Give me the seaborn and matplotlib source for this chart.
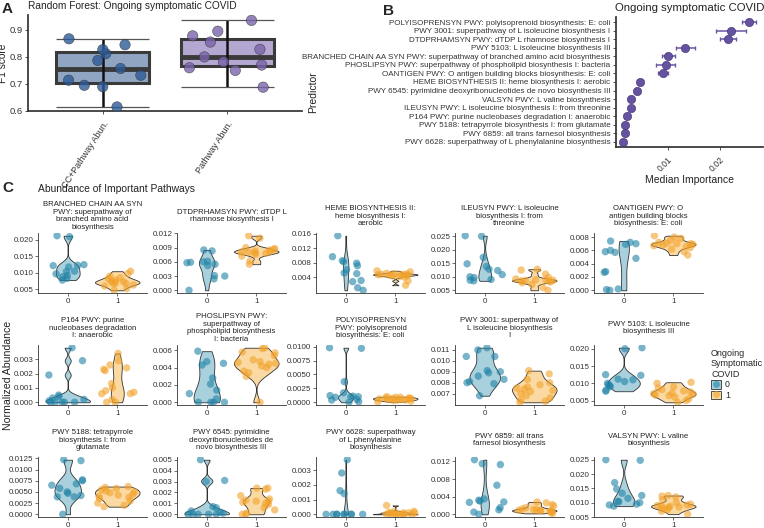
import numpy as np
import pandas as pd
import matplotlib.pyplot as plt
import seaborn as sns
from matplotlib.patches import Patch
from matplotlib.lines import Line2D

# ---- Panel A: random forest F1 scores ----
model_names = ["CC+Pathway Abun.", "Pathway Abun."]
f1_cc_pathway = [0.867, 0.845, 0.787, 0.757, 0.732, 0.812, 0.827, 0.714, 0.695, 0.690, 0.615]
f1_pathway = [0.935, 0.895, 0.878, 0.855, 0.828, 0.800, 0.782, 0.770, 0.760, 0.750, 0.688]

# ---- Panel B: median importance ----
predictors = [
    "POLYISOPRENSYN PWY: polyisoprenoid biosynthesis: E: coli",
    "PWY 3001: superpathway of L isoleucine biosynthesis I",
    "DTDPRHAMSYN PWY: dTDP L rhamnose biosynthesis I",
    "PWY 5103: L isoleucine biosynthesis III",
    "BRANCHED CHAIN AA SYN PWY: superpathway of branched amino acid biosynthesis",
    "PHOSLIPSYN PWY: superpathway of phospholipid biosynthesis I: bacteria",
    "OANTIGEN PWY: O antigen building blocks biosynthesis: E: coli",
    "HEME BIOSYNTHESIS II: heme biosynthesis I: aerobic",
    "PWY 6545: pyrimidine deoxyribonucleotides de novo biosynthesis III",
    "VALSYN PWY: L valine biosynthesis",
    "ILEUSYN PWY: L isoleucine biosynthesis I: from threonine",
    "P164 PWY: purine nucleobases degradation I: anaerobic",
    "PWY 5188: tetrapyrrole biosynthesis I: from glutamate",
    "PWY 6859: all trans farnesol biosynthesis",
    "PWY 6628: superpathway of L phenylalanine biosynthesis",
]
median_importance = [0.0256, 0.0221, 0.0216, 0.0134, 0.0101, 0.0096, 0.0091,
                     0.0047, 0.0041, 0.0030, 0.0029, 0.0022, 0.0019, 0.0019, 0.0014]
importance_lo = [0.0242, 0.0192, 0.0201, 0.0117, 0.0089, 0.0077, 0.0082,
                 0.0045, 0.0037, 0.0028, 0.0027, 0.0020, 0.0017, 0.0017, 0.0012]
importance_hi = [0.0270, 0.0250, 0.0231, 0.0152, 0.0114, 0.0114, 0.0101,
                 0.0049, 0.0045, 0.0032, 0.0031, 0.0024, 0.0021, 0.0021, 0.0016]

# ---- Panel C: abundance of important pathways ----
pathway_titles = [
    "BRANCHED CHAIN AA SYN\nPWY: superpathway of\nbranched amino acid\nbiosynthesis",
    "DTDPRHAMSYN PWY: dTDP L\nrhamnose biosynthesis I",
    "HEME BIOSYNTHESIS II:\nheme biosynthesis I:\naerobic",
    "ILEUSYN PWY: L isoleucine\nbiosynthesis I: from\nthreonine",
    "OANTIGEN PWY: O\nantigen building blocks\nbiosynthesis: E: coli",
    "P164 PWY: purine\nnucleobases degradation\nI: anaerobic",
    "PHOSLIPSYN PWY:\nsuperpathway of\nphospholipid biosynthesis\nI: bacteria",
    "POLYISOPRENSYN\nPWY: polyisoprenoid\nbiosynthesis: E: coli",
    "PWY 3001: superpathway of\nL isoleucine biosynthesis\nI",
    "PWY 5103: L isoleucine\nbiosynthesis III",
    "PWY 5188: tetrapyrrole\nbiosynthesis I: from\nglutamate",
    "PWY 6545: pyrimidine\ndeoxyribonucleotides de\nnovo biosynthesis III",
    "PWY 6628: superpathway\nof L phenylalanine\nbiosynthesis",
    "PWY 6859: all trans\nfarnesol biosynthesis",
    "VALSYN PWY: L valine\nbiosynthesis",
]
# group 0 (not ongoing symptomatic)
abund_0 = [
    [0.0213, 0.0210, 0.0125, 0.0122, 0.0118, 0.0123, 0.0105, 0.0104, 0.0097, 0.0092, 0.0088, 0.0083, 0.0078],
    [0.0085, 0.0083, 0.0061, 0.0060, 0.0058, 0.0059, 0.0055, 0.0052, 0.0031, 0.0030, 0.0024, 0.0000],
    [0.0155, 0.0097, 0.0086, 0.0083, 0.0079, 0.0072, 0.0061, 0.0052, 0.0050, 0.0031, 0.0028, 0.0011, 0.0004],
    [0.0252, 0.0250, 0.0172, 0.0148, 0.0138, 0.0128, 0.0123, 0.0108, 0.0100, 0.0097, 0.0090, 0.0087, 0.0085],
    [0.0074, 0.0072, 0.0070, 0.0069, 0.0060, 0.0058, 0.0057, 0.0048, 0.0028, 0.0027, 0.0002, 0.0001, 0.0000],
    [0.0038, 0.0029, 0.0019, 0.0005, 0.0004, 0.0003, 0.0002, 0.0001, 0.0000, 0.0000, 0.0000, 0.0000, 0.0000],
    [0.0059, 0.0047, 0.0045, 0.0043, 0.0028, 0.0021, 0.0014, 0.0010, 0.0004, 0.0000, 0.0000, 0.0000, 0.0000],
    [0.0098, 0.0097, 0.0037, 0.0017, 0.0012, 0.0011, 0.0010, 0.0010, 0.0009, 0.0005, 0.0004, 0.0001, 0.0000],
    [0.0112, 0.0110, 0.0104, 0.0104, 0.0091, 0.0090, 0.0089, 0.0086, 0.0083, 0.0081, 0.0080, 0.0079, 0.0068],
    [0.0203, 0.0200, 0.0125, 0.0123, 0.0112, 0.0110, 0.0105, 0.0100, 0.0096, 0.0093, 0.0090, 0.0080, 0.0077],
    [0.0122, 0.0120, 0.0077, 0.0075, 0.0068, 0.0065, 0.0058, 0.0050, 0.0047, 0.0042, 0.0039, 0.0039, 0.0000],
    [0.0050, 0.0031, 0.0030, 0.0007, 0.0006, 0.0003, 0.0002, 0.0001, 0.0000, 0.0000, 0.0000, 0.0000, 0.0000],
    [0.0037, 0.0028, 0.0016, 0.0014, 0.0000, 0.0000, 0.0000, 0.0000, 0.0000, 0.0000, 0.0000, 0.0000, 0.0000],
    [0.0124, 0.0115, 0.0113, 0.0066, 0.0035, 0.0032, 0.0030, 0.0028, 0.0027, 0.0015, 0.0010, 0.0005, 0.0000],
    [0.0250, 0.0248, 0.0170, 0.0148, 0.0133, 0.0125, 0.0115, 0.0105, 0.0103, 0.0100, 0.0095, 0.0092, 0.0088],
]
# group 1 (ongoing symptomatic)
abund_1 = [
    [0.0105, 0.0098, 0.0090, 0.0085, 0.0082, 0.0078, 0.0075, 0.0073, 0.0072, 0.0070, 0.0068, 0.0066, 0.0063, 0.0060, 0.0052, 0.0047],
    [0.0115, 0.0110, 0.0090, 0.0088, 0.0086, 0.0085, 0.0083, 0.0082, 0.0081, 0.0080, 0.0079, 0.0078, 0.0076, 0.0072, 0.0062, 0.0055],
    [0.0058, 0.0055, 0.0051, 0.0050, 0.0049, 0.0048, 0.0048, 0.0047, 0.0047, 0.0046, 0.0045, 0.0044, 0.0042, 0.0040, 0.0030, 0.0018],
    [0.0128, 0.0125, 0.0110, 0.0098, 0.0092, 0.0089, 0.0088, 0.0087, 0.0086, 0.0085, 0.0083, 0.0081, 0.0078, 0.0072, 0.0060, 0.0050],
    [0.0082, 0.0080, 0.0078, 0.0075, 0.0072, 0.0071, 0.0070, 0.0070, 0.0069, 0.0068, 0.0067, 0.0066, 0.0064, 0.0062, 0.0058, 0.0053],
    [0.0034, 0.0029, 0.0026, 0.0024, 0.0023, 0.0022, 0.0013, 0.0010, 0.0008, 0.0007, 0.0006, 0.0006, 0.0002, 0.0000, 0.0000],
    [0.0063, 0.0062, 0.0058, 0.0057, 0.0054, 0.0049, 0.0047, 0.0046, 0.0045, 0.0044, 0.0042, 0.0040, 0.0036, 0.0034, 0.0030, 0.0000],
    [0.0010, 0.0009, 0.0009, 0.0008, 0.0008, 0.0007, 0.0007, 0.0006, 0.0006, 0.0005, 0.0005, 0.0004, 0.0004, 0.0003, 0.0002, 0.0001],
    [0.0091, 0.0088, 0.0083, 0.0080, 0.0078, 0.0076, 0.0075, 0.0074, 0.0073, 0.0072, 0.0070, 0.0068, 0.0066, 0.0064, 0.0063, 0.0062],
    [0.0103, 0.0100, 0.0090, 0.0086, 0.0082, 0.0078, 0.0075, 0.0072, 0.0070, 0.0068, 0.0066, 0.0064, 0.0060, 0.0055, 0.0050, 0.0045],
    [0.0062, 0.0060, 0.0058, 0.0055, 0.0052, 0.0050, 0.0048, 0.0045, 0.0043, 0.0040, 0.0038, 0.0035, 0.0030, 0.0025, 0.0020, 0.0017],
    [0.0024, 0.0024, 0.0023, 0.0017, 0.0014, 0.0013, 0.0012, 0.0012, 0.0011, 0.0010, 0.0009, 0.0006, 0.0004, 0.0001, 0.0000, 0.0000],
    [0.0006, 0.0002, 0.0002, 0.0001, 0.0001, 0.0001, 0.0001, 0.0001, 0.0000, 0.0000, 0.0000, 0.0000, 0.0000, 0.0000, 0.0000, 0.0000],
    [0.0028, 0.0026, 0.0022, 0.0019, 0.0015, 0.0012, 0.0011, 0.0010, 0.0009, 0.0009, 0.0008, 0.0007, 0.0007, 0.0006, 0.0004, 0.0002],
    [0.0125, 0.0123, 0.0120, 0.0110, 0.0100, 0.0095, 0.0092, 0.0090, 0.0088, 0.0087, 0.0085, 0.0083, 0.0080, 0.0075, 0.0070, 0.0060],
]
ytick_labels = [
    ["0.005", "0.010", "0.015", "0.020"],
    ["0.000", "0.003", "0.006", "0.009", "0.012"],
    ["0.004", "0.008", "0.012", "0.016"],
    ["0.005", "0.010", "0.015", "0.020", "0.025"],
    ["0.000", "0.002", "0.004", "0.006", "0.008"],
    ["0.000", "0.001", "0.002", "0.003"],
    ["0.000", "0.002", "0.004", "0.006"],
    ["0.0000", "0.0025", "0.0050", "0.0075", "0.0100"],
    ["0.007", "0.008", "0.009", "0.010", "0.011"],
    ["0.005", "0.010", "0.015", "0.020"],
    ["0.0000", "0.0025", "0.0050", "0.0075", "0.0100", "0.0125"],
    ["0.000", "0.001", "0.002", "0.003", "0.004", "0.005"],
    ["0.000", "0.001", "0.002", "0.003"],
    ["0.000", "0.004", "0.008", "0.012"],
    ["0.005", "0.010", "0.015", "0.020", "0.025"],
]
groups = ["0", "1"]

# colours
box_fill = ["#8fa5c2", "#b4a7d1"]
box_points = ["#2d5b98", "#7a64ab"]
violin_fill = ["#a9d0dd", "#fbd9a3"]
violin_points = ["#1f82a6", "#f2a22a"]
text_col = "#222222"

sns.set_theme(style="ticks")
plt.rcParams["font.family"] = ["Liberation Sans", "DejaVu Sans"]
plt.rcParams["axes.edgecolor"] = "#333333"
plt.rcParams["xtick.color"] = "#333333"
plt.rcParams["ytick.color"] = "#333333"

W, H = 764, 528
fig = plt.figure(figsize=(W / 100, H / 100), dpi=100)


def add_ax(left, top, right, bottom):
    return fig.add_axes([left / W, 1 - bottom / H, (right - left) / W, (bottom - top) / H])


def nrd0(kde):
    # R's bw.nrd0 as a scipy bandwidth factor
    x = kde.dataset[0]
    sd = x.std(ddof=1)
    iqr = np.subtract(*np.percentile(x, [75, 25]))
    lo = min(sd, iqr / 1.34) if iqr > 0 else sd
    return 0.9 * lo / sd * len(x) ** -0.2


np.random.seed(7)

# ---------------- Panel A ----------------
df_a = pd.DataFrame({
    "model": [model_names[0]] * len(f1_cc_pathway) + [model_names[1]] * len(f1_pathway),
    "f1": f1_cc_pathway + f1_pathway,
})
ax = add_ax(28, 15, 302, 111)
sns.boxplot(data=df_a, x="model", y="f1", hue="model", palette=box_fill, width=0.75,
            whis=0, showcaps=False, showfliers=False, linewidth=2.2, linecolor="#3a3a3a",
            medianprops={"linewidth": 3.5}, saturation=1, legend=False, ax=ax)
stats = df_a.groupby("model", sort=False)["f1"].agg(["min", "max"])
for i, (lo, hi) in enumerate(stats.values):
    ax.vlines(i, lo, hi, color="#111111", lw=1.8, zorder=4)
    ax.hlines([lo, hi], i - 0.375, i + 0.375, color="#555555", lw=0.9, zorder=4)
sns.stripplot(data=df_a, x="model", y="f1", hue="model", palette=box_points, jitter=0.32,
              size=7.5, alpha=0.8, linewidth=0.4, edgecolor="#333333", legend=False, ax=ax, zorder=5)
ax.set_xlim(-0.6, 1.6)
ax.set_ylim(0.6, 0.955)
ax.set_yticks([0.6, 0.7, 0.8, 0.9], ["0.6", "0.7", "0.8", "0.9"])
ax.tick_params(axis="y", labelsize=6.8, length=2.5, width=0.6, pad=1)
ax.tick_params(axis="x", labelsize=6.5, length=2.5, width=0.6)
for lbl in ax.get_xticklabels():
    lbl.set_rotation(57)
    lbl.set_ha("right")
    lbl.set_va("top")
    lbl.set_rotation_mode("anchor")
ax.set_xlabel("")
ax.set_ylabel("F1 score", fontsize=7.3, color=text_col, labelpad=1)
ax.set_title("Random Forest: Ongoing symptomatic COVID", loc="left", fontsize=7.3,
             color=text_col, pad=4)
sns.despine(ax=ax)
fig.text(2 / W, 1 - 9 / H, "A", fontsize=11, fontweight="bold", va="center")

# ---------------- Panel B ----------------
ax = add_ax(616, 17, 763, 147)
ypos = np.arange(len(predictors))
err_lo = np.subtract(median_importance, importance_lo)
err_hi = np.subtract(importance_hi, median_importance)
ax.errorbar(median_importance, ypos, xerr=[err_lo, err_hi], fmt="none", ecolor="#6a56a4",
            elinewidth=1.1, capsize=1.5, capthick=1.0, zorder=2)
sns.scatterplot(x=median_importance, y=ypos, color="#6552a0", s=36, edgecolor="#3b2d6e",
                linewidth=0.4, ax=ax, zorder=3)
ax.set_yticks(ypos, predictors)
ax.set_ylim(14.6, -0.6)
ax.set_xlim(0.0001, 0.0283)
ax.set_xticks([0.01, 0.02], ["0.01", "0.02"])
ax.tick_params(axis="y", labelsize=5.8, length=2.5, width=0.6, pad=1.5)
ax.tick_params(axis="x", labelsize=6.2, length=2.5, width=0.6)
for lbl in ax.get_xticklabels():
    lbl.set_rotation(45)
    lbl.set_ha("right")
    lbl.set_va("top")
    lbl.set_rotation_mode("anchor")
ax.set_xlabel("Median Importance", fontsize=7.5, color=text_col, labelpad=1)
ax.set_title("Ongoing symptomatic COVID", fontsize=8.2, color=text_col, pad=4)
sns.despine(ax=ax)
fig.text(313 / W, 1 - 92 / H, "Predictor", rotation=90, fontsize=7.5, color=text_col,
         ha="center", va="center")
fig.text(383 / W, 1 - 11 / H, "B", fontsize=11, fontweight="bold", va="center")

# ---------------- Panel C ----------------
fig.text(2 / W, 1 - 188 / H, "C", fontsize=11, fontweight="bold", va="center")
fig.text(38 / W, 1 - 189 / H, "Abundance of Important Pathways", fontsize=7.4,
         color=text_col, va="center")
col_left = [38, 177, 316, 455, 594]
row_top = [233, 345, 457]
pw, ph = 109, 60

for k, title in enumerate(pathway_titles):
    r, c = divmod(k, 5)
    left, top = col_left[c], row_top[r]
    ax = add_ax(left, top, left + pw, top + ph)
    vals0, vals1 = abund_0[k], abund_1[k]
    df = pd.DataFrame({"group": ["0"] * len(vals0) + ["1"] * len(vals1),
                       "value": vals0 + vals1})
    sns.violinplot(data=df, x="group", y="value", hue="group", order=groups, hue_order=groups,
                   palette=violin_fill, cut=0, inner=None, density_norm="area",
                   common_norm=True, width=0.9, bw_method=nrd0, linewidth=0.6,
                   linecolor="#333333", saturation=1, legend=False, ax=ax)
    sns.stripplot(data=df, x="group", y="value", hue="group", order=groups, hue_order=groups,
                  palette=violin_points, jitter=0.4, size=5.3, alpha=0.6, linewidth=0,
                  legend=False, ax=ax, zorder=3)
    vmin, vmax = df["value"].min(), df["value"].max()
    pad = (vmax - vmin) * 0.05
    ax.set_ylim(vmin - pad, vmax + pad)
    ax.set_xlim(-0.6, 1.6)
    ticks = ytick_labels[k]
    ax.set_yticks([float(t) for t in ticks], ticks)
    ax.tick_params(axis="both", labelsize=5.8, length=2.2, width=0.5, pad=1.2)
    ax.set_xlabel("")
    ax.set_ylabel("")
    for s in ax.spines.values():
        s.set_linewidth(0.6)
    sns.despine(ax=ax)
    ax.text(0.5, 1 + 17 / ph, title, transform=ax.transAxes, ha="center", va="center",
            fontsize=5.6, color=text_col, linespacing=1.1)

fig.text(8 / W, 1 - 375 / H, "Normalized Abundance", rotation=90, fontsize=7.6,
         color=text_col, ha="center", va="center")

handles = [(Patch(facecolor=violin_fill[i], edgecolor="#333333", linewidth=0.6),
            Line2D([], [], marker="o", ls="", markersize=5, markerfacecolor=violin_points[i],
                   markeredgewidth=0, alpha=0.6)) for i in range(2)]
leg = fig.legend(handles, groups, loc="upper left", bbox_to_anchor=(711 / W, 1 - 349 / H),
                 frameon=False, title="Ongoing\nSymptomatic\nCOVID", fontsize=6.3,
                 title_fontsize=6.5, alignment="left", handlelength=1.1, handleheight=1.1,
                 handletextpad=0.5, labelspacing=0.15, borderaxespad=0, borderpad=0)

fig.savefig("out.png", dpi=100)
